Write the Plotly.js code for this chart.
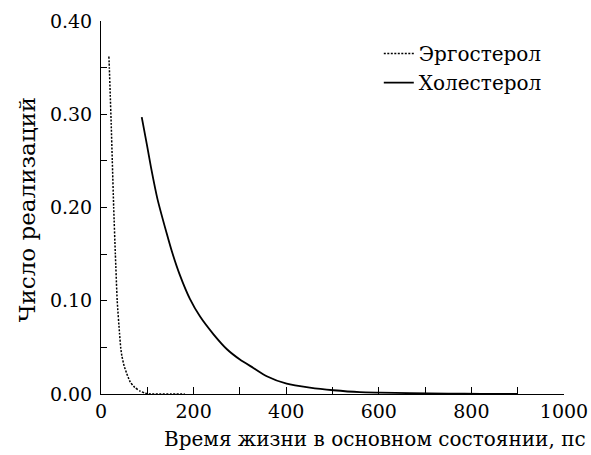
<!DOCTYPE html>
<html>
<head>
<meta charset="utf-8">
<script src="https://cdn.plot.ly/plotly-3.0.1.min.js"></script>
<style>html,body{margin:0;padding:0;background:#fff;}#chart{width:591px;height:455px;}</style>
</head>
<body>
<div id="chart"></div>
<script>
// Эргостерол (dotted)
const ergoX = [17, 18, 20, 22, 24.4, 27.4, 31, 35, 40, 42.5, 45, 50, 55.5, 63, 73, 85, 95, 110, 130, 150, 181];
const ergoY = [0.362, 0.35, 0.32, 0.29, 0.25, 0.20, 0.15, 0.10, 0.065, 0.05, 0.041, 0.03, 0.022, 0.013, 0.007, 0.003, 0.001, 0, 0, 0, 0];
// Холестерол (solid)
const cholX = [88, 100, 108, 122, 142, 153, 170, 192, 214, 243, 272, 300, 329, 358, 401, 451, 502, 559, 603, 667, 750, 820, 900];
const cholY = [0.297, 0.265, 0.243, 0.209, 0.172, 0.153, 0.128, 0.102, 0.083, 0.064, 0.048, 0.037, 0.028, 0.019, 0.011, 0.0068, 0.004, 0.002, 0.0015, 0.0009, 0.0005, 0.0002, 0.0001];

const xTickVals = [0, 100, 200, 300, 400, 500, 600, 700, 800, 900, 1000];
const xTickText = ['0', '', '200', '', '400', '', '600', '', '800', '', '1000'];
const yTickVals = [0, 0.05, 0.10, 0.15, 0.20, 0.25, 0.30, 0.35, 0.40];
const yTickText = ['0.00', '', '0.10', '', '0.20', '', '0.30', '', '0.40'];

const seriesNames = ['Эргостерол', 'Холестерол'];
const xTitle = 'Время жизни в основном состоянии, пс';
const yTitle = 'Число реализаций';

const FONT = 'DejaVu Serif';

const traces = [
  {x: ergoX, y: ergoY, name: seriesNames[0], type: 'scatter', mode: 'lines',
   line: {color: '#000', width: 1.5, dash: '2px,1.5px', shape: 'spline', smoothing: 0.5}},
  {x: cholX, y: cholY, name: seriesNames[1], type: 'scatter', mode: 'lines',
   line: {color: '#000', width: 1.8, shape: 'spline', smoothing: 0.6}}
];

const layout = {
  width: 591, height: 455,
  margin: {l: 101, r: 27, t: 21, b: 61},
  paper_bgcolor: '#fff', plot_bgcolor: '#fff',
  font: {family: FONT, size: 18, color: '#000'},
  showlegend: true,
  legend: {x: 0.6, y: 0.965, xanchor: 'left', yanchor: 'top', bgcolor: 'rgba(0,0,0,0)',
           font: {family: FONT, size: 20, color: '#000'}},
  xaxis: {range: [0, 1000], tickmode: 'array', tickvals: xTickVals, ticktext: xTickText,
          ticks: 'inside', ticklen: 7, tickwidth: 1, tickcolor: '#000',
          showline: true, linecolor: '#000', linewidth: 1, showgrid: false, zeroline: false,
          tickfont: {family: FONT, size: 19, color: '#000'}, fixedrange: true},
  yaxis: {range: [0, 0.40], tickmode: 'array', tickvals: yTickVals, ticktext: yTickText,
          ticks: 'inside', ticklen: 6, tickwidth: 1, tickcolor: '#000',
          showline: true, linecolor: '#000', linewidth: 1, showgrid: false, zeroline: false,
          ticklabelstandoff: 4,
          tickfont: {family: FONT, size: 19, color: '#000'}, fixedrange: true},
  annotations: [
    {text: xTitle, xref: 'paper', yref: 'paper', x: 1.052, y: -0.083, xanchor: 'right', yanchor: 'top',
     showarrow: false, font: {family: FONT, size: 20, color: '#000'}},
    {text: yTitle, xref: 'paper', yref: 'paper', x: -0.16, y: 0.495, xanchor: 'center', yanchor: 'middle',
     textangle: -90, showarrow: false, font: {family: FONT, size: 23, color: '#000'}}
  ]
};

Plotly.newPlot('chart', traces, layout, {displayModeBar: false, staticPlot: true});
</script>
</body>
</html>
